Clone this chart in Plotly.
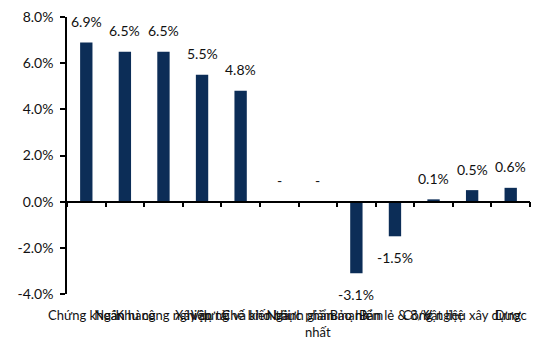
import plotly.graph_objects as go

# Sector performance (%)
sectors = [
    "Chứng khoán", "Ngân hàng", "Khu công nghiệp", "Xây dựng", "Vận tải và kho bãi",
    "Chế biến thực phẩm", "Ngành giảm mạnh<br>nhất", "Bảo hiểm", "Bán lẻ & 8/6",
    "Công nghệ", "Vật liệu xây dựng", "Dược",
]
changes = [6.9, 6.5, 6.5, 5.5, 4.8, 0.0, 0.0, -3.1, -1.5, 0.1, 0.5, 0.6]
value_labels = ["6.9%", "6.5%", "6.5%", "5.5%", "4.8%", "-", "-",
                "-3.1%", "-1.5%", "0.1%", "0.5%", "0.6%"]

y_ticks = [-4, -2, 0, 2, 4, 6, 8]
y_min, y_max = -4, 8

bar_color = "#0C2D57"
font_family = "Lato, 'Open Sans', sans-serif"

fig = go.Figure()
fig.add_trace(go.Bar(
    x=sectors, y=changes, marker=dict(color=bar_color, line=dict(width=0)),
    xaxis="x", yaxis="y", showlegend=False, hoverinfo="skip",
))
# invisible trace that carries the category axis drawn along the zero line
fig.add_trace(go.Scatter(
    x=sectors, y=[0] * len(sectors), mode="markers", marker=dict(opacity=0),
    xaxis="x2", yaxis="y", showlegend=False, hoverinfo="skip",
))

for s, v, t in zip(sectors, changes, value_labels):
    fig.add_annotation(
        x=s, y=v, xref="x", yref="y", text=t, showarrow=False,
        yshift=-21 if v < 0 else 21,
        font=dict(family=font_family, size=14, color="#111111"),
    )

zero_pos = (0 - y_min) / (y_max - y_min)
x_range = [-0.5, len(sectors) - 0.5]

fig.update_layout(
    width=537, height=340,
    margin=dict(l=67, r=7, t=17, b=46),
    paper_bgcolor="white", plot_bgcolor="white",
    bargap=0.68,
    font=dict(family=font_family, size=13, color="#111111"),
    xaxis=dict(
        type="category", range=x_range, showline=False, showgrid=False, ticks="",
        tickangle=0, tickfont=dict(size=13), automargin=False,
        ticklabelstandoff=12,
    ),
    xaxis2=dict(
        type="category", overlaying="x", range=x_range, anchor="free",
        position=zero_pos, showline=True, linecolor="black", linewidth=1.5,
        ticks="outside", tickson="boundaries", ticklen=5, tickcolor="black",
        tickwidth=1.5, showticklabels=False, showgrid=False,
    ),
    yaxis=dict(
        range=[y_min, y_max], tickvals=y_ticks,
        ticktext=[f"{v:.1f}%" for v in y_ticks],
        showline=True, linecolor="black", linewidth=1.5, ticks="outside",
        ticklen=5, tickcolor="black", tickwidth=1.5, showgrid=False,
        zeroline=False, tickfont=dict(size=14), automargin=False,
        ticklabelstandoff=4,
    ),
)

fig.write_html("out.html")
